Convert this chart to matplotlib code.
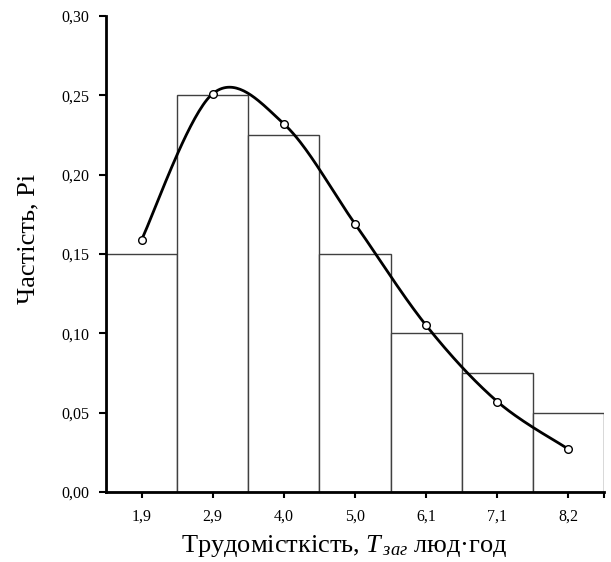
import numpy as np
import matplotlib
matplotlib.use("Agg")
import matplotlib.pyplot as plt

categories = ["1,9", "2,9", "4,0", "5,0", "6,1", "7,1", "8,2"]
bar_values = [0.15, 0.25, 0.225, 0.15, 0.10, 0.075, 0.05]
curve_values = [0.159, 0.251, 0.232, 0.169, 0.105, 0.057, 0.027]
y_ticks = [0.0, 0.05, 0.10, 0.15, 0.20, 0.25, 0.30]
y_ticklabels = ["0,00", "0,05", "0,10", "0,15", "0,20", "0,25", "0,30"]

plt.rcParams['font.family'] = ['Liberation Serif', 'DejaVu Serif']
plt.rcParams['mathtext.fontset'] = 'custom'
plt.rcParams['mathtext.rm'] = 'Liberation Serif'
plt.rcParams['mathtext.it'] = 'Liberation Serif:italic'


def smooth(xs, ys, n=40, k=1/6):
    xs = np.asarray(xs, float); ys = np.asarray(ys, float)
    px = np.concatenate([[xs[0]], xs, [xs[-1]]])
    py = np.concatenate([[ys[0]], ys, [ys[-1]]])
    ox, oy = [], []
    t = np.linspace(0, 1, n)
    for i in range(1, len(px) - 2):
        p0x, p1x, p2x, p3x = px[i-1:i+3]
        p0y, p1y, p2y, p3y = py[i-1:i+3]
        c1x = p1x + (p2x - p0x) * k
        c1y = p1y + (p2y - p0y) * k
        c2x = p2x - (p3x - p1x) * k
        c2y = p2y - (p3y - p1y) * k
        bx = (1-t)**3*p1x + 3*(1-t)**2*t*c1x + 3*(1-t)*t**2*c2x + t**3*p2x
        by = (1-t)**3*p1y + 3*(1-t)**2*t*c1y + 3*(1-t)*t**2*c2y + t**3*p2y
        ox.extend(bx); oy.extend(by)
    return np.array(ox), np.array(oy)


fig = plt.figure(figsize=(6.11, 5.62), dpi=100)
ax = fig.add_axes([0.1735, 0.1246, 0.815, 0.847])

x = np.arange(len(categories))
ax.bar(x, bar_values, width=1.0, color='white', edgecolor='#404040', linewidth=1.0, zorder=2)

sx, sy = smooth(x, curve_values)
ax.plot(sx, sy, color='black', linewidth=2.0, zorder=3)
ax.plot(x, curve_values, linestyle='none', marker='o', markersize=5.5,
        markerfacecolor='white', markeredgecolor='black', markeredgewidth=1.0, zorder=4)

ax.set_xlim(-0.5, len(categories) - 0.5)
ax.set_ylim(0, 0.30)
ax.set_xticks(x)
ax.set_xticklabels(categories, fontsize=11.5)
ax.set_xticks([len(categories) - 0.5], minor=True)
ax.set_yticks(y_ticks)
ax.set_yticklabels(y_ticklabels, fontsize=11.5)
ax.tick_params(axis='x', direction='out', length=4, width=1.5, pad=8)
ax.tick_params(axis='x', which='minor', direction='out', length=4, width=1.5)
ax.tick_params(axis='y', direction='out', length=5, width=1.5, pad=7)

for s in ['top', 'right']:
    ax.spines[s].set_visible(False)
for s in ['left', 'bottom']:
    ax.spines[s].set_linewidth(2.0)

ax.set_ylabel("Частість, Pi", fontsize=19)
ax.set_xlabel("Трудомісткість, $T_{\\,заг}$ люд·год", fontsize=19)
ax.yaxis.set_label_coords(28 / 611, 1 - 239 / 562, transform=fig.transFigure)
ax.xaxis.set_label_coords(344 / 611, 1 - 546 / 562, transform=fig.transFigure)
ax.xaxis.label.set_va('center')
ax.yaxis.label.set_va('center')

fig.savefig("out.png", dpi=100)
